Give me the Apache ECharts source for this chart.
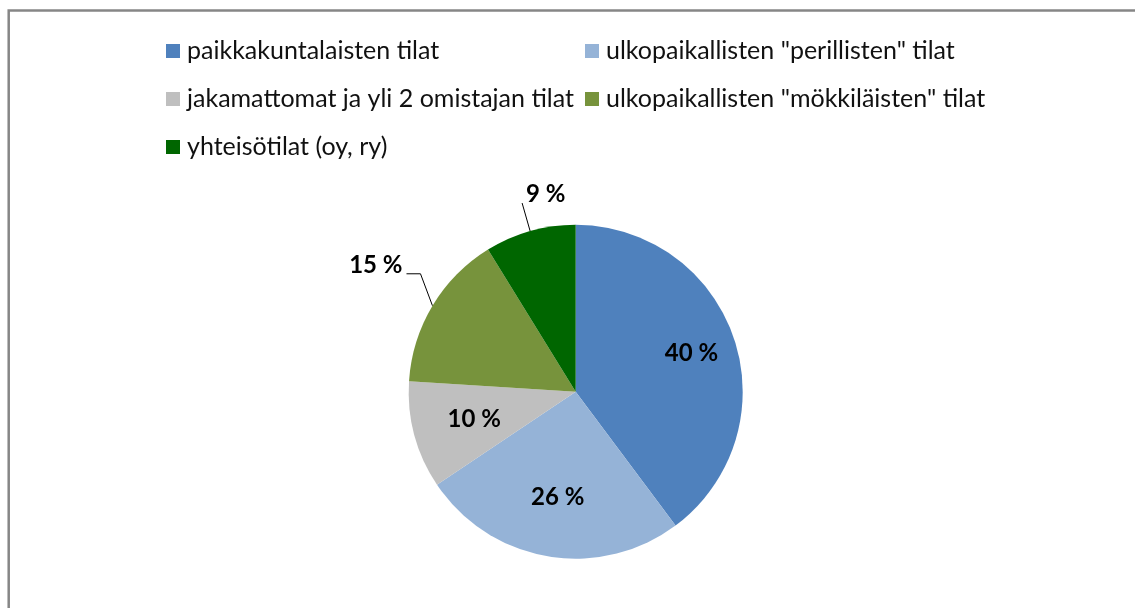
<!DOCTYPE html>
<html>
<head>
<meta charset="utf-8">
<script src="https://cdn.jsdelivr.net/npm/echarts@6/dist/echarts.min.js"></script>
<style>
html,body{margin:0;padding:0;background:#fff;overflow:hidden;}
#chart{width:1135px;height:608px;}
</style>
</head>
<body>
<div id="chart"></div>
<script>
// ---- data ----
const categories = [
  'paikkakuntalaisten tilat',
  'ulkopaikallisten "perillisten" tilat',
  'jakamattomat ja yli 2 omistajan tilat',
  'ulkopaikallisten "mökkiläisten" tilat',
  'yhteisötilat (oy, ry)'
];
const shares = [39.8, 25.8, 10.4, 15.2, 8.8];
const colors = ['#4F81BD', '#95B3D7', '#BFBFBF', '#77933C', '#006600'];

// ---- styling config ----
const CX = 575.7, CY = 391.7, R = 167;
const outsideIdx = [3, 4];
const insideRatio = {0: 0.73, 1: 0.64, 2: 0.63};
const leader = {
  3: {pts: [[-12, -32], [-26, -32]], align: 'right'},
  4: {pts: [[-8, -28]], align: 'left'}
};

const pieData = categories.map((n, i) => {
  const out = outsideIdx.indexOf(i) >= 0;
  return {
    name: n,
    value: shares[i],
    itemStyle: {color: colors[i]},
    label: {position: out ? 'outside' : 'inside'},
    labelLine: {show: out}
  };
});

const legendText = {fontFamily: 'Lato', fontSize: 25, color: '#111', lineHeight: 26, padding: [0, 0, 0, 2]};
const legendCommon = {
  orient: 'vertical', top: 33, itemGap: 22, padding: 5,
  itemWidth: 14, itemHeight: 14, icon: 'rect',
  textStyle: legendText
};

const option = {
  animation: false,
  backgroundColor: '#fff',
  graphic: [{
    type: 'polyline',
    shape: {points: [[8.7, 2000], [8.7, 10.5], [2000, 10.5]]},
    style: {fill: null, stroke: '#868686', lineWidth: 2.5},
    silent: true
  }],
  legend: [
    Object.assign({}, legendCommon, {left: 161, data: [categories[0], categories[2], categories[4]]}),
    Object.assign({}, legendCommon, {left: 580, data: [categories[1], categories[3]]})
  ],
  series: [{
    type: 'pie',
    center: [CX, CY],
    radius: R,
    startAngle: 90,
    clockwise: true,
    avoidLabelOverlap: false,
    silent: true,
    itemStyle: {borderWidth: 0},
    label: {
      show: true,
      fontFamily: 'Lato', fontWeight: 'bold', fontSize: 24, lineHeight: 24,
      color: '#000',
      formatter: p => Math.round(p.percent) + ' %'
    },
    labelLine: {show: false, lineStyle: {color: '#000', width: 1}, length: 20, length2: 10},
    labelLayout: function (p) {
      const i = p.dataIndex;
      if (leader[i] && p.labelLinePoints) {
        const a = p.labelLinePoints[0];
        const pts = [[a[0], a[1]]].concat(leader[i].pts.map(o => [a[0] + o[0], a[1] + o[1]]));
        const e = pts[pts.length - 1];
        const left = leader[i].align === 'left';
        return {
          x: e[0] + (left ? 4 : -4),
          y: e[1] + 3,
          align: leader[i].align,
          verticalAlign: 'bottom',
          labelLinePoints: pts
        };
      }
      if (insideRatio[i] != null) {
        const lr = p.labelRect;
        const lx = lr.x + lr.width / 2, ly = lr.y + lr.height / 2;
        const dx = lx - CX, dy = ly - CY;
        const d = Math.hypot(dx, dy) || 1;
        const t = insideRatio[i] * R;
        return {x: CX + dx / d * t, y: CY + dy / d * t, align: 'center', verticalAlign: 'middle'};
      }
      return {};
    },
    data: pieData
  }]
};

const chart = echarts.init(document.getElementById('chart'), null, {renderer: 'canvas'});
chart.setOption(option);
</script>
</body>
</html>
